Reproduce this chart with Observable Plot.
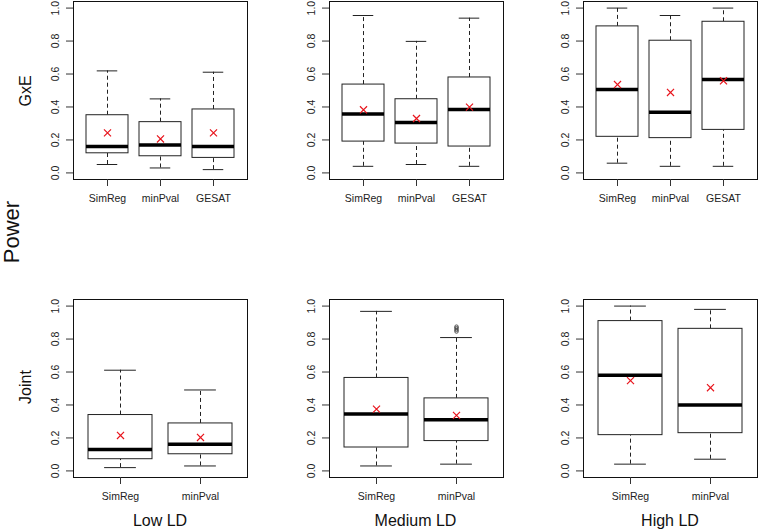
<!DOCTYPE html>
<html>
<head>
<meta charset="utf-8">
<script src="https://cdn.jsdelivr.net/npm/d3@7"></script>
<script src="https://cdn.jsdelivr.net/npm/@observablehq/plot@0.6"></script>
<style>
  html, body { margin: 0; padding: 0; background: white; }
  #wrap { position: relative; width: 760px; height: 531px; background: white; overflow: hidden;
          font-family: "Liberation Sans", Arial, sans-serif; color: #111; }
  .panel { position: absolute; }
  .lbl { position: absolute; white-space: nowrap; line-height: 1; transform: translate(-50%, -50%); }
  .rot { transform: translate(-50%, -50%) rotate(-90deg); }
</style>
</head>
<body>
<div id="wrap"></div>
<script>
// ---- data ----
const tests = ["GxE", "Joint"];
const ldLevels = ["Low LD", "Medium LD", "High LD"];
const methodsGxE = ["SimReg", "minPval", "GESAT"];
const methodsJoint = ["SimReg", "minPval"];
const yTicks = [0, 0.2, 0.4, 0.6, 0.8, 1.0];

// each entry per method: [lower whisker, Q1, median, Q3, upper whisker, mean]
const gxeLowLD    = [[0.051, 0.119, 0.160, 0.350, 0.619, 0.243],
                     [0.030, 0.101, 0.170, 0.308, 0.449, 0.206],
                     [0.020, 0.091, 0.160, 0.385, 0.611, 0.243]];
const gxeMediumLD = [[0.040, 0.190, 0.358, 0.536, 0.955, 0.383],
                     [0.051, 0.178, 0.306, 0.447, 0.798, 0.330],
                     [0.040, 0.160, 0.385, 0.579, 0.939, 0.399]];
const gxeHighLD   = [[0.059, 0.219, 0.506, 0.889, 1.000, 0.536],
                     [0.040, 0.211, 0.368, 0.802, 0.955, 0.488],
                     [0.040, 0.261, 0.567, 0.917, 1.000, 0.559]];
const jointLowLD    = [[0.020, 0.071, 0.130, 0.339, 0.611, 0.215],
                       [0.030, 0.101, 0.162, 0.288, 0.491, 0.203]];
const jointMediumLD = [[0.030, 0.142, 0.345, 0.564, 0.968, 0.375],
                       [0.041, 0.181, 0.310, 0.440, 0.809, 0.337]];
const jointHighLD   = [[0.041, 0.217, 0.580, 0.909, 1.000, 0.548],
                       [0.071, 0.229, 0.400, 0.862, 0.980, 0.505]];
// outliers (method, value)
const jointMediumOutliers = [["minPval", 0.846], ["minPval", 0.856], ["minPval", 0.866], ["minPval", 0.875]];

const wrap = document.getElementById("wrap");

function panel(cats, stats, outliers, frameLeft, frameTop) {
  const n = cats.length;
  const rows = cats.map((c, i) => ({
    cat: c, lo: stats[i][0], q1: stats[i][1], med: stats[i][2],
    q3: stats[i][3], hi: stats[i][4], mean: stats[i][5]
  }));
  const outs = outliers.map(([c, v]) => ({cat: c, value: v}));
  const W = 174, H = 178, mL = 40, mR = 3, mT = 1, mB = 30;
  const step = W / (1.08 * n);
  const capInset = (0.8 * step) / 4;
  const dash = "4,3";
  const svg = Plot.plot({
    width: mL + W + mR, height: mT + H + mB,
    marginLeft: mL, marginRight: mR, marginTop: mT, marginBottom: mB,
    style: {fontFamily: "'Liberation Sans', Arial, sans-serif", fontSize: "10.5px", color: "#222", background: "white"},
    x: {type: "band", domain: cats, paddingInner: 0.2, paddingOuter: 0.04 * n + 0.1, align: 0.5},
    y: {domain: [-0.04, 1.04]},
    marks: [
      Plot.ruleX(rows, {x: "cat", y1: "q3", y2: "hi", stroke: "#222", strokeDasharray: dash}),
      Plot.ruleX(rows, {x: "cat", y1: "lo", y2: "q1", stroke: "#222", strokeDasharray: dash}),
      Plot.tickY(rows, {x: "cat", y: "hi", stroke: "#222", insetLeft: capInset, insetRight: capInset}),
      Plot.tickY(rows, {x: "cat", y: "lo", stroke: "#222", insetLeft: capInset, insetRight: capInset}),
      Plot.barY(rows, {x: "cat", y1: "q1", y2: "q3", fill: "white", stroke: "#222", strokeWidth: 1}),
      Plot.tickY(rows, {x: "cat", y: "med", stroke: "#000", strokeWidth: 3.5}),
      Plot.dot(outs, {x: "cat", y: "value", r: 1.8, stroke: "#333", strokeWidth: 0.8, fill: "none"}),
      Plot.dot(rows, {x: "cat", y: "mean", symbol: "times", r: 3.3, stroke: "#e8141c", strokeWidth: 1.2}),
      Plot.frame({stroke: "#111"}),
      Plot.axisY({ticks: yTicks, tickSize: 7, tickFormat: () => "", label: null, stroke: "#333"}),
      Plot.text(yTicks, {y: (d) => d, text: (d) => d.toFixed(1), frameAnchor: "left", dx: -18,
                         rotate: -90, textAnchor: "middle", lineAnchor: "middle", fontSize: 10.5, fill: "#222"}),
      Plot.axisX({tickSize: 7, tickPadding: 8, label: null, fontSize: 10.5, stroke: "#333"})
    ]
  });
  svg.classList.add("panel");
  svg.style.left = (frameLeft - mL) + "px";
  svg.style.top = (frameTop - mT) + "px";
  wrap.appendChild(svg);
}

const frameLefts = [73, 328.5, 583];
const frameTops = [1, 299];

panel(methodsGxE, gxeLowLD, [], frameLefts[0], frameTops[0]);
panel(methodsGxE, gxeMediumLD, [], frameLefts[1], frameTops[0]);
panel(methodsGxE, gxeHighLD, [], frameLefts[2], frameTops[0]);
panel(methodsJoint, jointLowLD, [], frameLefts[0], frameTops[1]);
panel(methodsJoint, jointMediumLD, jointMediumOutliers, frameLefts[1], frameTops[1]);
panel(methodsJoint, jointHighLD, [], frameLefts[2], frameTops[1]);

function label(text, x, y, size, rotate) {
  const d = document.createElement("div");
  d.className = "lbl" + (rotate ? " rot" : "");
  d.textContent = text;
  d.style.left = x + "px";
  d.style.top = y + "px";
  d.style.fontSize = size + "px";
  wrap.appendChild(d);
}
label("Power", 11.5, 232, 22, true);
label(tests[0], 26, 91, 16, true);
label(tests[1], 26, 387, 16, true);
ldLevels.forEach((t, i) => label(t, frameLefts[i] + 87, 521, 16, false));
</script>
</body>
</html>
